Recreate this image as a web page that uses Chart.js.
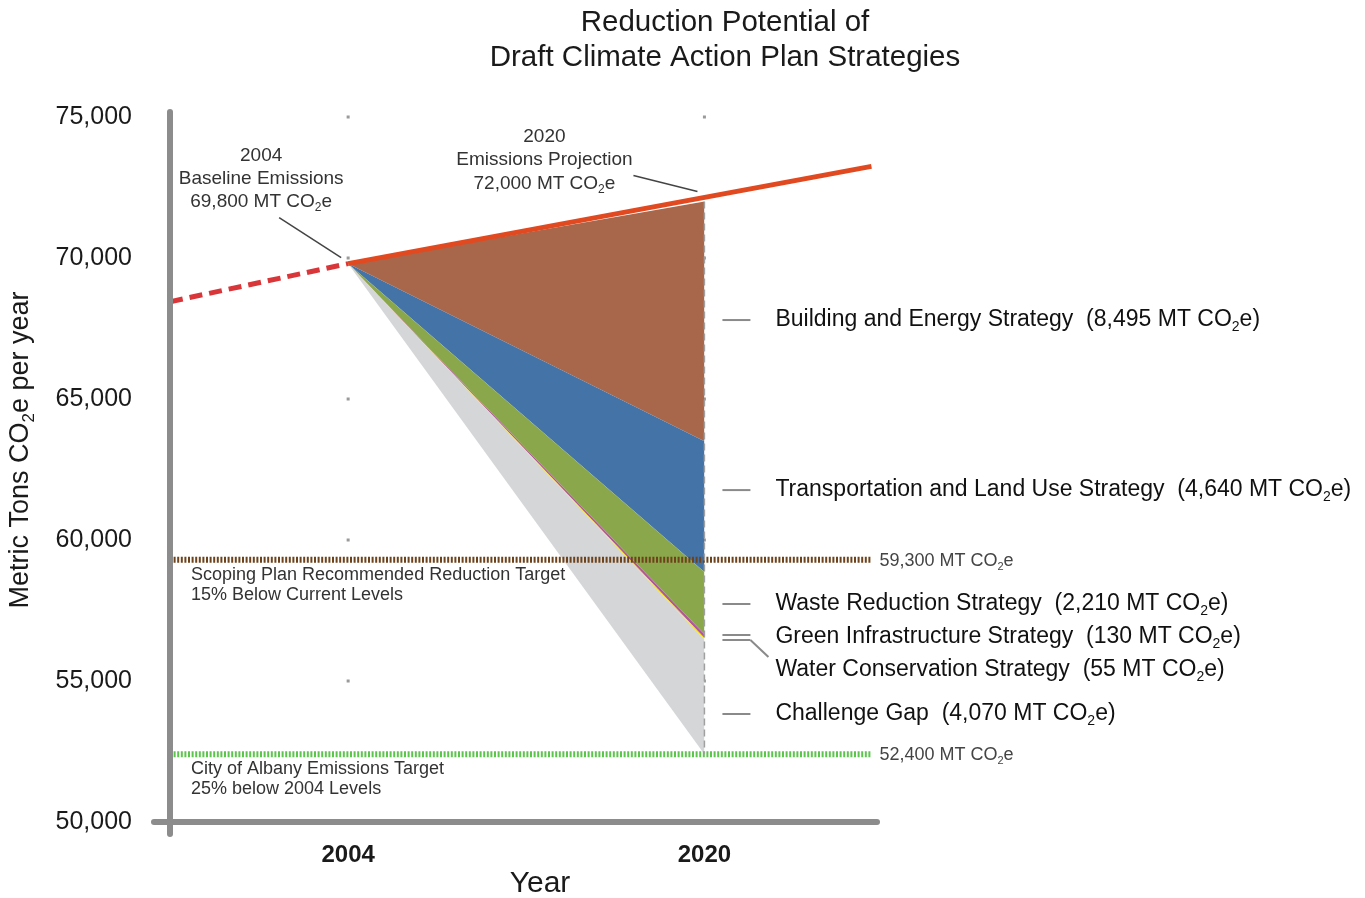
<!DOCTYPE html>
<html>
<head>
<meta charset="utf-8">
<script src="https://cdn.jsdelivr.net/npm/chart.js"></script>
<style>
  html, body { margin: 0; background: #fff; }
  #wrap { width: 1365px; height: 898px; }
</style>
</head>
<body>
<div id="wrap"><canvas id="cap"></canvas></div>
<script>
var years = [2004, 2020];
var baselineEmissions = 69800;
var projectedEmissions = 72000;
var trendYears = [1996, 2004, 2027.5];
var trendValues = [68450, 69800, 73250];

var strategyNames = ['Building and Energy Strategy', 'Transportation and Land Use Strategy', 'Waste Reduction Strategy',
                     'Green Infrastructure Strategy', 'Water Conservation Strategy', 'Challenge Gap'];
var strategySavings = [8495, 4640, 2210, 130, 55, 4070];
var strategyColors = ['#a8664b', '#4473a8', '#8aa84b', '#b0579b', '#f4e400', '#d5d6d8'];
var strategyLabelY = [67800, 61770, 57730, 56560, 55390, 53830];

var targetValues = [59300, 52400];
var targetLabels = ['59,300 MT CO₂e', '52,400 MT CO₂e'];
var targetNotes = [['Scoping Plan Recommended Reduction Target', '15% Below Current Levels'],
                   ['City of Albany Emissions Target', '25% below 2004 Levels']];
var targetColors = ['#6e431c', '#5cc54b'];

var xTicks = [2004, 2020];
var yTickStep = 5000;

var FONT = '"Liberation Sans", Arial, sans-serif';

// stacked boundaries from the 2020 projection down
var bounds = [projectedEmissions];
strategySavings.forEach(function (s) { bounds.push(bounds[bounds.length - 1] - s); });

var datasets = [];
for (var k = 0; k < bounds.length; k++) {
    var b = bounds[bounds.length - 1 - k];
    var si = strategyNames.length - k;
    datasets.push({
        label: k == 0 ? 'base' : strategyNames[si],
        data: [{x: years[0], y: baselineEmissions}, {x: years[1], y: b}],
        borderColor: 'rgba(0,0,0,0)',
        borderWidth: 0,
        backgroundColor: k == 0 ? 'rgba(0,0,0,0)' : strategyColors[si],
        fill: k == 0 ? false : '-1',
        pointRadius: 0,
        order: 10
    });
}
targetValues.forEach(function (v, i) {
    datasets.push({
        label: 'target' + i,
        data: [{x: trendYears[0], y: v}, {x: trendYears[2], y: v}],
        borderColor: targetColors[i],
        borderWidth: 6,
        borderDash: [2, 1.6],
        pointRadius: 0,
        fill: false,
        order: 3
    });
});
datasets.push({
    label: '2020 line',
    data: [{x: years[1], y: projectedEmissions}, {x: years[1], y: bounds[bounds.length - 1]}],
    borderColor: '#a0a0a0',
    borderWidth: 1.5,
    borderDash: [7, 4],
    pointRadius: 0,
    fill: false,
    order: 2
});
datasets.push({
    label: 'trend before',
    data: [{x: trendYears[0], y: trendValues[0]}, {x: trendYears[1], y: trendValues[1]}],
    borderColor: '#d9363a',
    borderWidth: 5,
    borderDash: [13, 7],
    pointRadius: 0,
    fill: false,
    order: 1
});
datasets.push({
    label: 'trend',
    data: [{x: trendYears[1], y: trendValues[1]}, {x: trendYears[2], y: trendValues[2]}],
    borderColor: '#e14a20',
    borderWidth: 5,
    pointRadius: 0,
    fill: false,
    order: 1
});

// text with a subscript 2
function richText(ctx, text, x, y, size, align, color, weight) {
    var parts = text.split('₂');
    var w = weight ? weight + ' ' : '';
    var main = w + size + 'px ' + FONT, sub = w + Math.round(size * 0.62) + 'px ' + FONT;
    ctx.font = sub;
    var w2 = ctx.measureText('2').width;
    ctx.font = main;
    var total = 0;
    parts.forEach(function (p) { total += ctx.measureText(p).width; });
    total += w2 * (parts.length - 1);
    var cx = align == 'center' ? x - total / 2 : (align == 'right' ? x - total : x);
    ctx.fillStyle = color;
    ctx.textBaseline = 'middle';
    ctx.textAlign = 'left';
    parts.forEach(function (p, i) {
        ctx.font = main;
        ctx.fillText(p, cx, y);
        cx += ctx.measureText(p).width;
        if (i < parts.length - 1) {
            ctx.font = sub;
            ctx.fillText('2', cx, y + size * 0.32);
            cx += w2;
        }
    });
}

function line(ctx, x1, y1, x2, y2, w, c) {
    ctx.beginPath();
    ctx.moveTo(x1, y1);
    ctx.lineTo(x2, y2);
    ctx.lineWidth = w;
    ctx.strokeStyle = c;
    ctx.stroke();
}

var decor = {
    id: 'decor',
    beforeDatasetsDraw: function (chart) {
        var ctx = chart.ctx, xs = chart.scales.x, ys = chart.scales.y;
        ctx.save();
        ctx.fillStyle = '#9a9a9a';
        xTicks.forEach(function (t) {
            ys.ticks.forEach(function (tk) {
                if (tk.value == ys.min) return;
                ctx.fillRect(xs.getPixelForValue(t) - 1.5, ys.getPixelForValue(tk.value) - 1.5, 3, 3);
            });
        });
        ctx.restore();
    },
    afterDraw: function (chart) {
        var ctx = chart.ctx, xs = chart.scales.x, ys = chart.scales.y, a = chart.chartArea;
        ctx.save();
        ctx.lineCap = 'round';
        // axes
        line(ctx, a.left, a.top - 5, a.left, a.bottom + 12, 6, '#8c8c8c');
        line(ctx, a.left - 16, a.bottom, a.right, a.bottom, 6, '#8c8c8c');
        ctx.lineCap = 'butt';

        // title
        richText(ctx, 'Reduction Potential of', 725, 23, 29.5, 'center', '#1a1a1a');
        richText(ctx, 'Draft Climate Action Plan Strategies', 725, 58, 29.5, 'center', '#1a1a1a');

        // axis titles
        ctx.save();
        ctx.translate(21, 450);
        ctx.rotate(-Math.PI / 2);
        richText(ctx, 'Metric Tons CO₂e per year', 0, 0, 27, 'center', '#1a1a1a');
        ctx.restore();
        richText(ctx, 'Year', 540, 884, 30, 'center', '#1a1a1a');

        // baseline / projection callouts
        var p0x = xs.getPixelForValue(years[0]), p0y = ys.getPixelForValue(baselineEmissions);
        var p1x = xs.getPixelForValue(years[1]), p1y = ys.getPixelForValue(projectedEmissions);
        richText(ctx, '2004', p0x - 87, p0y - 108, 19, 'center', '#333');
        richText(ctx, 'Baseline Emissions', p0x - 87, p0y - 85, 19, 'center', '#333');
        richText(ctx, '69,800 MT CO₂e', p0x - 87, p0y - 62, 19, 'center', '#333');
        line(ctx, p0x - 69, p0y - 46, p0x - 7, p0y - 6, 1.5, '#444');
        richText(ctx, '2020', p1x - 160, p1y - 65, 19, 'center', '#333');
        richText(ctx, 'Emissions Projection', p1x - 160, p1y - 42, 19, 'center', '#333');
        richText(ctx, '72,000 MT CO₂e', p1x - 160, p1y - 18, 19, 'center', '#333');
        line(ctx, p1x - 71, p1y - 26, p1x - 7, p1y - 10, 1.5, '#444');

        // target labels
        targetValues.forEach(function (v, i) {
            var ty = ys.getPixelForValue(v);
            var ex = xs.getPixelForValue(trendYears[2]);
            richText(ctx, targetLabels[i], ex + 8, ty + 1, 18, 'left', '#444');
            richText(ctx, targetNotes[i][0], a.left + 21, ty + 15, 18, 'left', '#333');
            richText(ctx, targetNotes[i][1], a.left + 21, ty + 35, 18, 'left', '#333');
        });

        // strategy labels
        var lx = p1x + 18;
        strategyNames.forEach(function (n, i) {
            var y = ys.getPixelForValue(strategyLabelY[i]);
            var txt = n + '  (' + strategySavings[i].toLocaleString('en-US') + ' MT CO₂e)';
            richText(ctx, txt, lx + 53, y, 23, 'left', '#111');
            if (i == 3) {
                line(ctx, lx, y - 2, lx + 28, y - 2, 2, '#8a8a8a');
                line(ctx, lx, y + 3, lx + 28, y + 3, 2, '#8a8a8a');
                line(ctx, lx + 28, y + 3, lx + 46, y + 20, 2, '#8a8a8a');
            } else if (i != 4) {
                line(ctx, lx, y, lx + 28, y, 2, '#8a8a8a');
            }
        });
        ctx.restore();
    }
};

new Chart(document.getElementById('cap'), {
    type: 'line',
    data: { datasets: datasets },
    options: {
        responsive: true,
        maintainAspectRatio: false,
        animation: false,
        layout: { padding: { top: 117, right: 488, bottom: 0, left: 0 } },
        plugins: {
            legend: { display: false },
            tooltip: { enabled: false },
            title: { display: false }
        },
        scales: {
            x: {
                type: 'linear',
                min: 1996,
                max: 2027.75,
                afterBuildTicks: function (scale) {
                    scale.ticks = xTicks.map(function (v) { return {value: v}; });
                },
                afterFit: function (scale) { scale.height = 76; },
                grid: { display: false },
                border: { display: false },
                ticks: { padding: 11, color: '#1a1a1a', font: { size: 24, weight: 'bold', family: FONT },
                         callback: function (v) { return String(v); } }
            },
            y: {
                min: 50000,
                max: 75000,
                afterFit: function (scale) { scale.width = 170; },
                grid: { display: false },
                border: { display: false },
                ticks: { stepSize: yTickStep, padding: 30, color: '#1a1a1a',
                         font: { size: 25, family: FONT } }
            }
        }
    },
    plugins: [decor]
});
</script>
</body>
</html>
